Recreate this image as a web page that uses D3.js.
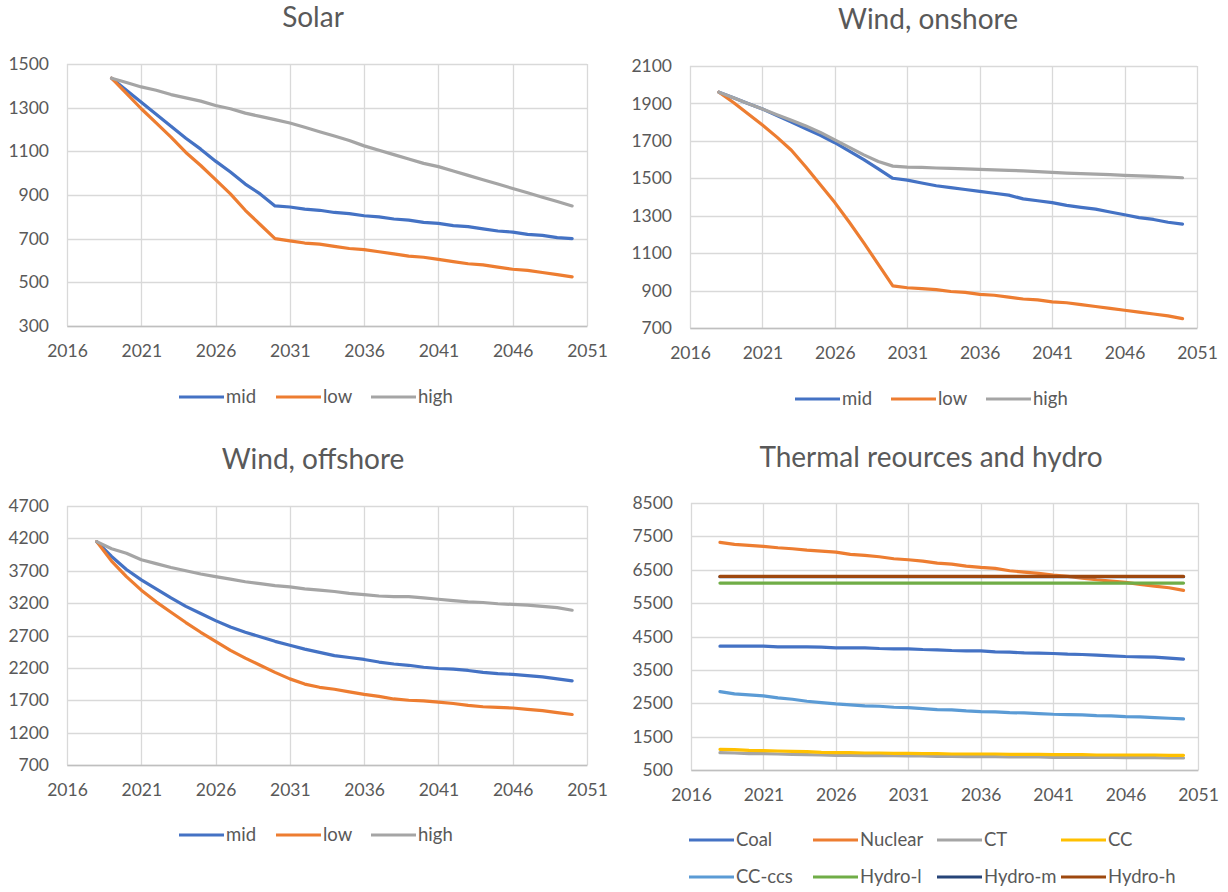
<!DOCTYPE html>
<html>
<head>
<meta charset="utf-8">
<script src="https://cdn.jsdelivr.net/npm/d3@7"></script>
<style>
  html, body { margin: 0; padding: 0; background: #fff; }
  svg { display: block; }
  text { font-family: Lato, "Noto Sans", sans-serif; }
</style>
</head>
<body>
<svg id="chart" width="1228" height="892"></svg>
<script>
// ---------------- DATA ----------------
const xTicks = [2016, 2021, 2026, 2031, 2036, 2041, 2046, 2051];

// Solar (2019-2050)
const solarStart = 2019;
const solarMid  = [1435,1380,1325,1270,1215,1160,1110,1055,1005,950,905,850,
                   845,835,830,820,815,805,800,790,785,775,770,760,755,745,735,730,720,715,705,700];
const solarLow  = [1435,1365,1295,1230,1165,1095,1035,970,905,830,765,700,
                   690,680,675,665,655,650,640,630,620,615,605,595,585,580,570,560,555,545,535,525];
const solarHigh = [1435,1415,1395,1380,1360,1345,1330,1310,1295,1275,1260,1245,
                   1230,1210,1190,1170,1150,1125,1105,1085,1065,1045,1030,1010,990,970,950,930,910,890,870,850];
const solarYTicks = [300, 500, 700, 900, 1100, 1300, 1500];

// Wind, onshore (2018-2050)
const onStart = 2018;
const onMid  = [1960,1930,1900,1870,1835,1800,1765,1730,1690,1645,1600,1550,1500,
                1490,1475,1460,1450,1440,1430,1420,1410,1390,1380,1370,1355,1345,1335,1320,1305,1290,1280,1265,1255];
const onLow  = [1960,1905,1845,1785,1720,1650,1560,1465,1370,1265,1155,1040,925,
                915,910,905,895,890,880,875,865,855,850,840,835,825,815,805,795,785,775,765,750];
const onHigh = [1960,1930,1900,1870,1840,1810,1780,1745,1705,1665,1625,1590,1565,
                1560,1558,1555,1553,1550,1548,1545,1542,1540,1536,1532,1528,1525,1522,1520,1516,1513,1510,1507,1503];
const onYTicks = [700, 900, 1100, 1300, 1500, 1700, 1900, 2100];

// Wind, offshore (2018-2050)
const offStart = 2018;
const offMid  = [4150,3920,3720,3560,3420,3280,3150,3040,2930,2830,2750,2680,2610,2550,2490,2440,2390,
                 2360,2330,2290,2260,2240,2210,2190,2180,2160,2130,2110,2100,2080,2060,2030,2000];
const offLow  = [4150,3850,3610,3400,3220,3060,2900,2750,2610,2470,2350,2240,2130,2030,1950,1900,1870,
                 1830,1790,1760,1720,1700,1690,1670,1650,1620,1600,1590,1580,1560,1540,1510,1480];
const offHigh = [4150,4040,3970,3870,3810,3750,3700,3650,3610,3570,3530,3500,3470,3450,3420,3400,3380,
                 3350,3330,3310,3300,3300,3280,3260,3240,3220,3210,3190,3180,3170,3150,3130,3090];
const offYTicks = [700, 1200, 1700, 2200, 2700, 3200, 3700, 4200, 4700];

// Thermal resources and hydro (2018-2050)
const thStart = 2018;
const coal    = [4210,4210,4210,4210,4190,4190,4190,4180,4160,4160,4160,4140,4130,4130,4110,4100,4080,
                 4070,4070,4040,4030,4010,4000,3990,3970,3960,3940,3920,3900,3890,3880,3850,3820];
const nuclear = [7320,7260,7230,7200,7160,7130,7090,7060,7030,6960,6930,6890,6830,6800,6760,6700,6670,
                 6610,6570,6540,6470,6430,6390,6340,6300,6250,6200,6160,6120,6060,6010,5960,5880];
const ct      = [1020,1010,990,990,980,970,960,950,940,940,930,930,930,920,920,910,910,
                 900,900,900,890,890,890,880,880,880,880,880,870,870,870,860,860];
const cc      = [1120,1110,1090,1080,1070,1060,1050,1030,1020,1020,1010,1010,1000,1000,990,990,980,
                 980,980,980,970,970,970,960,960,960,950,950,950,950,950,940,940];
const ccCcs   = [2850,2780,2750,2720,2660,2620,2560,2520,2480,2450,2420,2410,2380,2370,2340,2310,2300,
                 2270,2250,2240,2220,2210,2190,2170,2160,2150,2130,2120,2100,2090,2070,2050,2030];
const hydroL  = [6100,6100,6100,6100,6100,6100,6100,6100,6100,6100,6100,6100,6100,6100,6100,6100,6100,
                 6100,6100,6100,6100,6100,6100,6100,6100,6100,6100,6100,6100,6100,6100,6100,6100];
const hydroM  = [6290,6290,6290,6290,6290,6290,6290,6290,6290,6290,6290,6290,6290,6290,6290,6290,6290,
                 6290,6290,6290,6290,6290,6290,6290,6290,6290,6290,6290,6290,6290,6290,6290,6290];
const hydroH  = [6300,6300,6300,6300,6300,6300,6300,6300,6300,6300,6300,6300,6300,6300,6300,6300,6300,
                 6300,6300,6300,6300,6300,6300,6300,6300,6300,6300,6300,6300,6300,6300,6300,6300];
const thYTicks = [500, 1500, 2500, 3500, 4500, 5500, 6500, 7500, 8500];

// ---------------- STYLE ----------------
const C = {
  blue: "#4472C4", orange: "#ED7D31", gray: "#A5A5A5", yellow: "#FFC000",
  lblue: "#5B9BD5", green: "#70AD47", navy: "#264478", brown: "#9E480E"
};

const panels = [
  { title: "Solar", titleX: 313, titleY: 27,
    box: { x0: 67, x1: 587, y0: 64, y1: 326 }, yTicks: solarYTicks, start: solarStart,
    series: [ {name: "mid", values: solarMid, color: C.blue},
              {name: "low", values: solarLow, color: C.orange},
              {name: "high", values: solarHigh, color: C.gray} ],
    legend: { cols: [179, 276, 371], rows: [397], perRow: 3 } },
  { title: "Wind, onshore", titleX: 928, titleY: 29,
    box: { x0: 690, x1: 1197, y0: 66, y1: 328 }, yTicks: onYTicks, start: onStart,
    series: [ {name: "mid", values: onMid, color: C.blue},
              {name: "low", values: onLow, color: C.orange},
              {name: "high", values: onHigh, color: C.gray} ],
    legend: { cols: [795, 891, 986], rows: [399], perRow: 3 } },
  { title: "Wind, offshore", titleX: 313, titleY: 469,
    box: { x0: 67, x1: 587, y0: 506, y1: 765 }, yTicks: offYTicks, start: offStart,
    series: [ {name: "mid", values: offMid, color: C.blue},
              {name: "low", values: offLow, color: C.orange},
              {name: "high", values: offHigh, color: C.gray} ],
    legend: { cols: [179, 276, 371], rows: [835], perRow: 3 } },
  { title: "Thermal reources and hydro", titleX: 931, titleY: 467,
    box: { x0: 691, x1: 1198, y0: 503, y1: 770 }, yTicks: thYTicks, start: thStart,
    series: [ {name: "Coal", values: coal, color: C.blue},
              {name: "Nuclear", values: nuclear, color: C.orange},
              {name: "CT", values: ct, color: C.gray},
              {name: "CC", values: cc, color: C.yellow},
              {name: "CC-ccs", values: ccCcs, color: C.lblue},
              {name: "Hydro-l", values: hydroL, color: C.green},
              {name: "Hydro-m", values: hydroM, color: C.navy},
              {name: "Hydro-h", values: hydroH, color: C.brown} ],
    legend: { cols: [689, 813, 937, 1061], rows: [840, 877], perRow: 4 } }
];

const svg = d3.select("#chart");

panels.forEach(p => {
  const g = svg.append("g");
  const x = d3.scaleLinear().domain([2016, 2051]).range([p.box.x0, p.box.x1]);
  const y = d3.scaleLinear().domain(d3.extent(p.yTicks)).range([p.box.y1, p.box.y0]);

  // title
  g.append("text").attr("x", p.titleX).attr("y", p.titleY)
    .attr("text-anchor", "middle").attr("font-size", 28).attr("fill", "#595959")
    .text(p.title);

  // horizontal gridlines
  g.append("g").selectAll("line").data(p.yTicks).join("line")
    .attr("x1", p.box.x0).attr("x2", p.box.x1)
    .attr("y1", d => Math.round(y(d)) + 0.5).attr("y2", d => Math.round(y(d)) + 0.5)
    .attr("stroke", "#D9D9D9").attr("stroke-width", 1.3);
  // vertical gridlines
  g.append("g").selectAll("line").data(xTicks).join("line")
    .attr("y1", p.box.y0).attr("y2", p.box.y1)
    .attr("x1", d => Math.round(x(d)) + 0.5).attr("x2", d => Math.round(x(d)) + 0.5)
    .attr("stroke", "#D9D9D9").attr("stroke-width", 1.3);

  // axes (labels only, via d3 axis)
  const yAxis = g.append("g").attr("transform", `translate(${p.box.x0},0)`)
    .call(d3.axisLeft(y).tickValues(p.yTicks).tickSize(0).tickPadding(18).tickFormat(d3.format("d")));
  yAxis.select(".domain").remove();
  yAxis.selectAll("text").attr("font-size", 17.5).attr("fill", "#595959").attr("font-family", "Lato, sans-serif");

  const xAxis = g.append("g").attr("transform", `translate(0,${p.box.y1})`)
    .call(d3.axisBottom(x).tickValues(xTicks).tickSize(0).tickPadding(19).tickFormat(d3.format("d")));
  xAxis.select(".domain").attr("stroke", "#BFBFBF").attr("stroke-width", 1.3);
  xAxis.selectAll("text").attr("font-size", 17.5).attr("fill", "#595959").attr("font-family", "Lato, sans-serif");

  // series
  const line = d3.line().x((d, i) => x(p.start + i)).y(d => y(d));
  p.series.forEach(s => {
    g.append("path").datum(s.values).attr("d", line)
      .attr("fill", "none").attr("stroke", s.color).attr("stroke-width", 3.2)
      .attr("stroke-linejoin", "round").attr("stroke-linecap", "round");
  });

  // legend
  p.series.forEach((s, i) => {
    const col = i % p.legend.perRow, row = Math.floor(i / p.legend.perRow);
    const lx = p.legend.cols[col], ly = p.legend.rows[row];
    g.append("line").attr("x1", lx).attr("x2", lx + 45).attr("y1", ly).attr("y2", ly)
      .attr("stroke", s.color).attr("stroke-width", 3.2);
    g.append("text").attr("x", lx + 47).attr("y", ly).attr("dy", "0.35em")
      .attr("font-size", 18.5).attr("fill", "#595959").text(s.name);
  });
});
</script>
</body>
</html>
